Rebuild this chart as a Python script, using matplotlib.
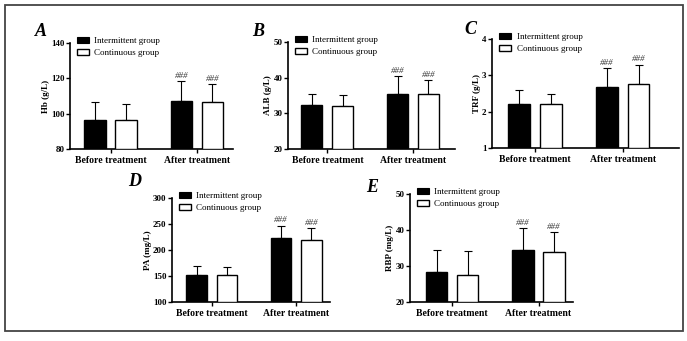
import matplotlib
matplotlib.use("Agg")
import matplotlib.pyplot as plt
from matplotlib.patches import Patch, Rectangle
import numpy as np

plt.rcParams["font.family"] = ["Liberation Serif", "DejaVu Serif"]

# ---- data ----
categories = ["Before treatment", "After treatment"]
groups = ["Intermittent group", "Continuous group"]

panels = ["A", "B", "C", "D", "E"]
ylabels = ["Hb (g/L)", "ALB (g/L)", "TRF (g/L)", "PA (mg/L)", "RBP (mg/L)"]
yranges = [(80, 140), (20, 50), (1, 4), (100, 300), (20, 50)]
ysteps = [20, 10, 1, 50, 10]

hb_int, hb_int_sd = [96.4, 107.3], [10.2, 11.3]
hb_con, hb_con_sd = [96.2, 106.6], [9.3, 10.1]
alb_int, alb_int_sd = [32.3, 35.5], [3.0, 4.9]
alb_con, alb_con_sd = [32.1, 35.4], [3.1, 3.9]
trf_int, trf_int_sd = [2.2, 2.67], [0.4, 0.52]
trf_con, trf_con_sd = [2.2, 2.76], [0.3, 0.53]
pa_int, pa_int_sd = [152.0, 223.0], [17.0, 24.0]
pa_con, pa_con_sd = [152.0, 219.0], [15.0, 23.0]
rbp_int, rbp_int_sd = [28.2, 34.4], [6.2, 6.2]
rbp_con, rbp_con_sd = [27.6, 33.9], [6.6, 5.5]

means_int = [hb_int, alb_int, trf_int, pa_int, rbp_int]
sds_int = [hb_int_sd, alb_int_sd, trf_int_sd, pa_int_sd, rbp_int_sd]
means_con = [hb_con, alb_con, trf_con, pa_con, rbp_con]
sds_con = [hb_con_sd, alb_con_sd, trf_con_sd, pa_con_sd, rbp_con_sd]
sig_marks = ["", "###"]

# ---- layout in pixels: left, right, top, bottom of each plot area ----
W, H = 687, 341
boxes = [(70, 233, 43, 149), (288, 455, 42, 149), (492, 679, 39, 148),
         (172, 330, 198, 302), (410, 573, 194, 302)]
xlims = [(0.53, 2.42), (0.54, 2.49), (0.51, 2.64), (0.53, 2.40), (0.51, 2.40)]
letter_pos = [(41, 32), (258, 32), (470, 30), (135, 181), (372, 188)]

fig = plt.figure(figsize=(W / 100, H / 100), dpi=100)
fig.patches.append(Rectangle((5 / W, 1 - 331 / H), 678 / W, 326 / H,
                             transform=fig.transFigure, fill=False,
                             edgecolor="#444444", linewidth=1.3))

x = np.arange(1, len(categories) + 1)
bw, off = 0.245, 0.18

for i in range(len(panels)):
    l, r, t, b = boxes[i]
    ax = fig.add_axes([l / W, 1 - b / H, (r - l) / W, (b - t) / H])
    lo, hi = yranges[i]

    ax.bar(x - off, np.array(means_int[i]) - lo, bw, bottom=lo, color="black",
           edgecolor="black", linewidth=1.0, zorder=3)
    ax.bar(x + off, np.array(means_con[i]) - lo, bw, bottom=lo, color="white",
           edgecolor="black", linewidth=1.0, zorder=3)
    for xs, m, s in [(x - off, means_int[i], sds_int[i]), (x + off, means_con[i], sds_con[i])]:
        ax.errorbar(xs, m, yerr=[np.zeros(len(s)), s], fmt="none", ecolor="black",
                    elinewidth=0.8, capsize=3, capthick=0.8, zorder=2)
        for xi, mi, si, mark in zip(xs, m, s, sig_marks):
            if mark:
                ax.text(xi, mi + si + (hi - lo) * 0.012, mark, ha="center", va="bottom",
                        fontsize=6.5, color="#333333", style="italic")

    ax.set_xlim(*xlims[i])
    ax.set_ylim(lo, hi)
    ax.set_yticks(np.arange(lo, hi + ysteps[i] / 2, ysteps[i]))
    ax.set_xticks(x)
    ax.set_xticklabels(categories, fontweight="bold", fontsize=7)
    for lab in ax.get_yticklabels():
        lab.set_fontweight("bold")
    ax.tick_params(axis="y", labelsize=6.5, length=3, width=1, pad=1)
    ax.tick_params(axis="x", length=3, width=1, pad=2)
    ax.spines[["top", "right"]].set_visible(False)
    ax.spines[["left", "bottom"]].set_linewidth(1.2)
    ax.set_ylabel(ylabels[i], fontsize=6.5, fontweight="bold", labelpad=1)

    handles = [Patch(facecolor="black", edgecolor="black", linewidth=0.8),
               Patch(facecolor="white", edgecolor="black", linewidth=1.0)]
    ax.legend(handles, groups, loc="upper left", bbox_to_anchor=(0.02, 1.09),
              frameon=False, fontsize=6.5, handlelength=1.3, handleheight=0.6,
              handletextpad=0.6, labelspacing=0.45, borderaxespad=0)

    lx, ly = letter_pos[i]
    fig.text(lx / W, 1 - ly / H, panels[i], fontsize=13, fontweight="bold",
             style="italic", ha="center", va="center")

fig.savefig("out.png", dpi=100)
